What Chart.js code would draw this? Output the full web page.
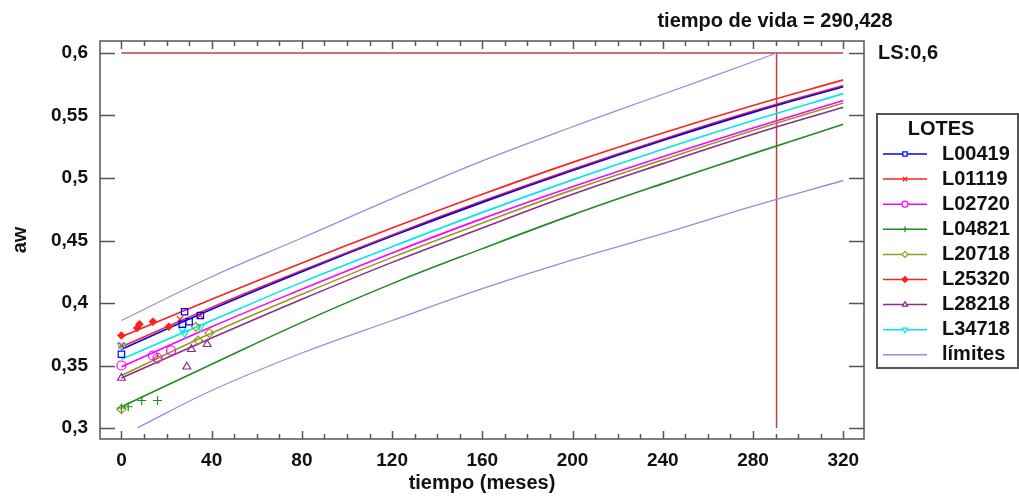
<!DOCTYPE html>
<html>
<head>
<meta charset="utf-8">
<script src="https://cdn.jsdelivr.net/npm/chart.js@4.4.1/dist/chart.umd.min.js"></script>
<style>
  html, body { margin: 0; padding: 0; background: #fff; }
  #wrap { width: 1019px; height: 497px; }
</style>
</head>
<body>
<div id="wrap"><canvas id="vidaChart" width="1019" height="497"></canvas></div>
<script>
// tick labels
const xTicks = [0, 40, 80, 120, 160, 200, 240, 280, 320];
const yTicks = [0.3, 0.35, 0.4, 0.45, 0.5, 0.55, 0.6];

// fitted curves per lote (aw at fitTimes)
const fitTimes = [0, 40, 80, 120, 160, 200, 240, 280, 320];
const fitL00419 = [0.363, 0.395, 0.425, 0.4535, 0.4805, 0.506, 0.530, 0.5525, 0.573];
const fitL01119 = [0.365, 0.3965, 0.426, 0.4545, 0.4815, 0.507, 0.531, 0.5535, 0.574];
const fitL02720 = [0.349, 0.381, 0.411, 0.440, 0.4675, 0.493, 0.517, 0.540, 0.562];
const fitL04821 = [0.317, 0.351, 0.3845, 0.4155, 0.4435, 0.4705, 0.4955, 0.5195, 0.543];
const fitL20718 = [0.342, 0.376, 0.407, 0.4365, 0.464, 0.4905, 0.5145, 0.538, 0.560];
const fitL25320 = [0.373, 0.403, 0.432, 0.460, 0.487, 0.5125, 0.536, 0.558, 0.5785];
const fitL28218 = [0.340, 0.372, 0.403, 0.4325, 0.460, 0.487, 0.5115, 0.535, 0.5566];
const fitL34718 = [0.355, 0.386, 0.4165, 0.445, 0.4725, 0.4985, 0.523, 0.546, 0.5675];

// observed values [meses, aw]
const obsL00419 = [[0, 0.359], [27, 0.383], [28, 0.393], [30, 0.385], [35, 0.390]];
const obsL01119 = [[0, 0.366], [26, 0.387], [35, 0.390]];
const obsL02720 = [[0, 0.350], [14, 0.358], [16, 0.356], [22, 0.362]];
const obsL04821 = [[0, 0.316], [3, 0.317], [9, 0.322], [16, 0.322]];
const obsL20718 = [[0, 0.315], [16, 0.355], [33, 0.381], [34, 0.370], [39, 0.376]];
const obsL25320 = [[0, 0.374], [7, 0.380], [8, 0.383], [14, 0.385], [21, 0.381]];
const obsL28218 = [[0, 0.340], [29, 0.349], [31, 0.363], [38, 0.367]];
const obsL34718 = [[0, 0.366], [27, 0.379], [28, 0.376], [35, 0.381]];

// limits
const limUpperT = [0, 40, 80, 120, 160, 200, 240, 280, 290.428];
const limUpperV = [0.386, 0.421, 0.452, 0.4835, 0.5137, 0.541, 0.567, 0.593, 0.6];
const limLowerT = [7, 40, 80, 120, 160, 200, 240, 280, 320];
const limLowerV = [0.300, 0.330, 0.360, 0.386, 0.4115, 0.4345, 0.4555, 0.4775, 0.498];

const LS = 0.6;
const tiempoVida = 290.428;

const FONT = "'Liberation Sans', Arial, sans-serif";
Chart.defaults.font.family = FONT;

const lotes = [
    { name: 'L00419', color: '#0000ff', fit: fitL00419, obs: obsL00419, style: 'rect', rot: 0, fill: false },
    { name: 'L01119', color: '#ff2020', fit: fitL01119, obs: obsL01119, style: 'crossRot', rot: 0, fill: false },
    { name: 'L02720', color: '#ff00ff', fit: fitL02720, obs: obsL02720, style: 'circle', rot: 0, fill: false },
    { name: 'L04821', color: '#228b22', fit: fitL04821, obs: obsL04821, style: 'cross', rot: 0, fill: false },
    { name: 'L20718', color: '#999922', fit: fitL20718, obs: obsL20718, style: 'rectRot', rot: 0, fill: false },
    { name: 'L25320', color: '#ff2020', fit: fitL25320, obs: obsL25320, style: 'rectRot', rot: 0, fill: true },
    { name: 'L28218', color: '#8b2d8b', fit: fitL28218, obs: obsL28218, style: 'triangle', rot: 0, fill: false },
    { name: 'L34718', color: '#00e8ee', fit: fitL34718, obs: obsL34718, style: 'triangle', rot: 180, fill: false }
];
const limColor = '#9a8ae6';
const lsColor = '#b44444';

function pairs(xs, ys) {
    return xs.map((x, i) => ({ x: x, y: ys[i] }));
}

const datasets = [];
// observed points on top
lotes.forEach(l => {
    datasets.push({
        type: 'scatter',
        data: l.obs.map(p => ({ x: p[0], y: p[1] })),
        showLine: false,
        pointStyle: l.style,
        rotation: l.rot,
        pointRadius: l.style === 'rectRot' && l.fill ? 3.5 : 4.5,
        borderColor: l.color,
        backgroundColor: l.fill ? l.color : 'rgba(0,0,0,0)',
        pointBorderWidth: 1.2
    });
});
// fitted lines (blue above the red L01119)
const fitOrder = [0, 1, 5, 7, 2, 4, 6, 3];
fitOrder.forEach(i => {
    const l = lotes[i];
    datasets.push({
        type: 'line',
        data: pairs(fitTimes, l.fit),
        borderColor: l.color,
        borderWidth: 1.6,
        pointRadius: 0,
        tension: 0.4,
        fill: false
    });
});
datasets.push({ type: 'line', data: pairs(limUpperT, limUpperV), borderColor: limColor, borderWidth: 1.3, pointRadius: 0, tension: 0.4 });
datasets.push({ type: 'line', data: pairs(limLowerT, limLowerV), borderColor: limColor, borderWidth: 1.3, pointRadius: 0, tension: 0.4 });
datasets.push({ type: 'line', data: [{ x: 0, y: LS }, { x: 320, y: LS }], borderColor: lsColor, borderWidth: 1.5, pointRadius: 0 });
datasets.push({ type: 'line', data: [{ x: tiempoVida, y: 0.3 }, { x: tiempoVida, y: LS }], borderColor: lsColor, borderWidth: 1.5, pointRadius: 0 });

// frame with inward ticks on all four sides, plus texts and legend
const framePlugin = {
    id: 'framePlugin',
    afterDraw(chart) {
        const ctx = chart.ctx;
        const a = chart.chartArea;
        const xs = chart.scales.x, ys = chart.scales.y;
        ctx.save();
        ctx.strokeStyle = '#555';
        ctx.lineWidth = 1.5;
        ctx.strokeRect(a.left, a.top, a.right - a.left, a.bottom - a.top);
        ctx.beginPath();
        yTicks.forEach(v => {
            const py = Math.round(ys.getPixelForValue(v)) + 0.5;
            ctx.moveTo(a.left, py); ctx.lineTo(a.left + 15, py);
            ctx.moveTo(a.right, py); ctx.lineTo(a.right - 15, py);
        });
        for (let v = 0; v <= 320; v += 10) {
            const px = Math.round(xs.getPixelForValue(v)) + 0.5;
            const len = v % 40 === 0 ? 8 : 5;
            ctx.moveTo(px, a.bottom); ctx.lineTo(px, a.bottom - len);
            ctx.moveTo(px, a.top); ctx.lineTo(px, a.top + len);
        }
        ctx.stroke();

        // texts
        ctx.fillStyle = '#111';
        ctx.font = 'bold 20px ' + FONT;
        ctx.textBaseline = 'middle';
        ctx.textAlign = 'center';
        ctx.fillText('tiempo de vida = ' + String(tiempoVida).replace('.', ','), 775, 21);
        ctx.textAlign = 'left';
        ctx.fillText('LS:' + String(LS).replace('.', ','), 878, ys.getPixelForValue(LS));

        // legend box
        const bx = 877, by = 114, bw = 141, bh = 254;
        ctx.strokeStyle = '#555';
        ctx.lineWidth = 2;
        ctx.strokeRect(bx, by, bw, bh);
        ctx.textAlign = 'center';
        ctx.fillText('LOTES', 941, 129);
        const rows = lotes.map(l => l).concat([{ name: 'límites', color: limColor, style: null }]);
        rows.forEach((l, i) => {
            const yy = 154 + i * 25.1;
            ctx.strokeStyle = l.color;
            ctx.lineWidth = 1.5;
            ctx.beginPath();
            ctx.moveTo(883, yy); ctx.lineTo(927, yy);
            ctx.stroke();
            if (l.style) {
                ctx.fillStyle = l.fill ? l.color : '#fff';
                ctx.lineWidth = 1.2;
                Chart.helpers.drawPoint(ctx, { pointStyle: l.style, rotation: l.rot, radius: 3, borderWidth: 1.2 }, 905, yy);
            }
            ctx.fillStyle = '#111';
            ctx.textAlign = 'left';
            ctx.fillText(l.name, 942, yy);
        });
        ctx.restore();
    }
};

const ctx = document.getElementById('vidaChart').getContext('2d');
const vidaChart = new Chart(ctx, {
    data: { datasets: datasets },
    options: {
        responsive: false,
        animation: false,
        devicePixelRatio: 1,
        layout: { padding: { left: 0, right: 155, top: 41, bottom: 0 } },
        plugins: { legend: { display: false }, tooltip: { enabled: false } },
        scales: {
            x: {
                type: 'linear',
                min: -9.5,
                max: 329.2,
                grid: { display: false, drawTicks: false },
                border: { display: false },
                afterBuildTicks: s => { s.ticks = xTicks.map(v => ({ value: v })); },
                afterFit: s => { s.height = 58; },
                ticks: { color: '#111', font: { size: 19, weight: 'bold' }, padding: 10, maxRotation: 0 },
                title: { display: true, text: 'tiempo (meses)', color: '#111', font: { size: 20, weight: 'bold' }, padding: { top: 0, bottom: 2 } }
            },
            y: {
                type: 'linear',
                min: 0.2912,
                max: 0.6096,
                grid: { display: false, drawTicks: false },
                border: { display: false },
                afterBuildTicks: s => { s.ticks = yTicks.map(v => ({ value: v })); },
                afterFit: s => { s.width = 100; },
                ticks: {
                    color: '#111',
                    font: { size: 19, weight: 'bold' },
                    padding: 12,
                    callback: v => String(v).replace('.', ',')
                },
                title: { display: true, text: 'aw', color: '#111', font: { size: 20, weight: 'bold' }, padding: { top: 8, bottom: 0 } }
            }
        }
    },
    plugins: [framePlugin]
});
</script>
</body>
</html>
